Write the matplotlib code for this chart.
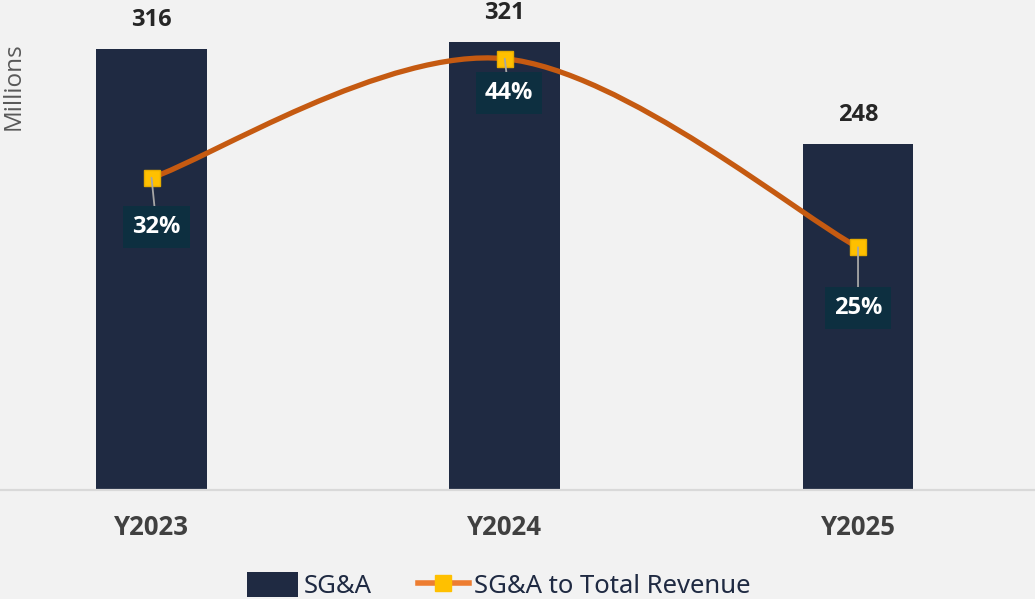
import numpy as np
import matplotlib
matplotlib.use('Agg')
from matplotlib import pyplot as plt
from matplotlib.path import Path
from matplotlib.patches import PathPatch, Patch
from matplotlib.lines import Line2D

# data
years = ['Y2023', 'Y2024', 'Y2025']
sga = [316, 321, 248]          # millions
sgaPct = [32, 44, 25]          # SG&A to total revenue, %
pctLabels = ['32%', '44%', '25%']

# label box offsets in points (layout only)
pctOffsets = [(3.6, -35.3), (2.9, -25.0), (0.0, -43.9)]

bg = '#F2F2F2'
barColor = '#1F2A42'
lineColor = '#C55A11'
markerColor = '#FFC000'
boxColor = '#0D2F40'

plt.rcParams['font.family'] = ['Open Sans', 'DejaVu Sans']

fig = plt.figure(figsize=(10.35, 5.99), dpi=100, facecolor=bg)
ax = fig.add_axes([0, 0.182, 1, 0.818])
ax.set_facecolor(bg)
ax2 = ax.twinx()

x = np.arange(len(years))
ax.bar(x, sga, width=0.314, color=barColor, zorder=2)
ax.set_xlim(-0.429, 2.501)
ax.set_ylim(0, 351)
ax2.set_ylim(0.544, 49.92)

for sp in ['top', 'left', 'right']:
  ax.spines[sp].set_visible(False)
  ax2.spines[sp].set_visible(False)
ax2.spines['bottom'].set_visible(False)
ax.spines['bottom'].set_color('#D9D9D9')
ax.spines['bottom'].set_linewidth(1.6)
ax.set_yticks([])
ax2.set_yticks([])
ax.set_xticks(x)
ax.set_xticklabels(years, fontsize=18.5, fontweight='bold', color='#404040')
ax.tick_params(axis='x', length=0, pad=17)

for i, v in enumerate(sga):
  ax.annotate(str(v), xy=(i, v), xytext=(0, 21), textcoords='offset points',
              ha='center', va='center', fontsize=17, fontweight='bold',
              color='#262626')

fig.text(0.0135, 0.857, 'Millions', rotation=90, ha='center', va='center',
         fontsize=17.5, color='#595959')

# smoothed line (Excel-style bezier through the points)
pts = np.column_stack([x, sgaPct]).astype(float)
n = len(pts)
verts = [pts[0]]
codes = [Path.MOVETO]
for i in range(n - 1):
  p0 = pts[max(i - 1, 0)]
  p1 = pts[i]
  p2 = pts[i + 1]
  p3 = pts[min(i + 2, n - 1)]
  verts += [p1 + (p2 - p0) / 6.0, p2 - (p3 - p1) / 6.0, p2]
  codes += [Path.CURVE4] * 3
ax2.add_patch(PathPatch(Path(verts, codes), fc='none', ec=lineColor,
                        lw=3.8, capstyle='round', zorder=3))
ax2.plot(x, sgaPct, 's', ms=12, mfc=markerColor, mec='#E6AC00', mew=1,
         zorder=4, linestyle='none')

for i, (v, lab) in enumerate(zip(sgaPct, pctLabels)):
  ax2.annotate(lab, xy=(i, v), xytext=pctOffsets[i], textcoords='offset points',
               ha='center', va='center', fontsize=17, fontweight='bold',
               color='white', zorder=5,
               bbox=dict(boxstyle='square,pad=0.38', fc=boxColor, ec='none'),
               arrowprops=dict(arrowstyle='-', color='#A6A6A6', lw=1.3,
                               shrinkA=0, shrinkB=0))

handles = [Patch(fc=barColor, ec='none'),
           Line2D([0], [0], color='#ED7D31', lw=4, marker='s', ms=12,
                  mfc=markerColor, mec=markerColor)]
fig.legend(handles, ['SG&A', 'SG&A to Total Revenue'], loc='center',
           bbox_to_anchor=(0.482, 0.022), ncol=2, frameon=False,
           prop={'family': 'Noto Sans', 'size': 18.5}, labelcolor='#1F2A42',
           handlelength=2.0, handleheight=1.1, handletextpad=0.2,
           columnspacing=1.8)

fig.savefig('out.png', dpi=100, facecolor=bg)
